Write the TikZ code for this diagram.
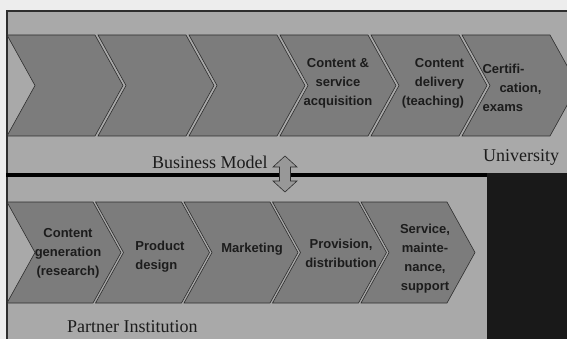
\documentclass[tikz,border=0pt]{standalone}
\usepackage{fontspec}
\setmainfont{Liberation Serif}
\newfontfamily\chevfont{Liberation Sans}
\usetikzlibrary{positioning}
\definecolor{paperGray}{HTML}{EDEDED}
\definecolor{frameGray}{HTML}{A9A9A9}
\definecolor{chevGray}{HTML}{7C7C7C}
\definecolor{lineGray}{HTML}{2E2E2E}
\definecolor{arrowGray}{HTML}{989898}
\definecolor{textDark}{HTML}{1C1C1C}
\tikzset{
    chevron/.style={fill=chevGray, draw=lineGray, line width=0.6pt, line join=miter},
    chevText/.style={font=\chevfont\bfseries\fontsize{13}{19}\selectfont, text=textDark, inner sep=0pt},
    ownerText/.style={font=\fontsize{18}{20}\selectfont, text=textDark, inner sep=0pt, anchor=base west},
    linkArrow/.style={fill=arrowGray, draw=lineGray, line width=0.6pt},
}
\newcommand{\drawChevron}[3]{
    % left x, top y, width of the top edge
    \filldraw[chevron] (#1,#2) -- ++(#3,0) -- ++(28,50.5) -- ++(-28,50.5)
        -- ++(-#3,0) -- ++(28,-50.5) -- cycle;
}

\begin{document}
\begin{tikzpicture}[x=1pt, y=-1pt]
        \useasboundingbox (0,0) rectangle (567,339);
        \clip (0,0) rectangle (567,339);
        \fill[paperGray] (0,0) rectangle (567,339);

        % frame
        \fill[frameGray] (6,11) rectangle (567,339);
        \draw[lineGray, line width=1.6pt] (6,11) -- (567,11);
        \draw[lineGray, line width=2pt] (6.5,11) -- (6.5,339);

        % university row
        \foreach \i in {0,...,5} {\drawChevron{7+91*\i}{35}{88}}
        % partner row
        \foreach \i in {0,...,4} {\drawChevron{7+88.5*\i}{202}{86}}

        % separator and dark block
        \draw[black, line width=4pt] (6,175) -- (488,175);
        \fill[black!90] (487,173) rectangle (567,339);

        \node[chevText, align=center] (acquire) at (338,83) {Content \&\\service\\acquisition};
        \node[chevText, align=right] (teach) at (433,83) {Content\\delivery\\(teaching)};
        \node[chevText, align=left] (certify) at (512,88) {Certifi-\\\hspace*{1.3em}cation,\\exams};

        \node[chevText, align=center] (research) at (68,253) {Content\\generation\\(research)};
        \node[chevText, align=left] (design) at (160,257) {Product\\design};
        \node[chevText] (marketing) at (252,249) {Marketing};
        \node[chevText, align=center] (provision) at (341,253) {Provision,\\distribution};
        \node[chevText, align=center] (service) at (425,259) {Service,\\mainte-\\nance,\\support};

        \node[ownerText] (bmodel) at (152,169) {Business Model};
        \node[ownerText] (univ) at (483,162) {University};
        \node[ownerText] (partner) at (67,332) {Partner Institution};

        % link between the two models
        \filldraw[linkArrow] (285,156) -- (297,167) -- (290.5,167) -- (290.5,181)
            -- (297,181) -- (285,192) -- (273,181) -- (279.5,181)
            -- (279.5,167) -- (273,167) -- cycle;

    \end{tikzpicture}
\end{document}
